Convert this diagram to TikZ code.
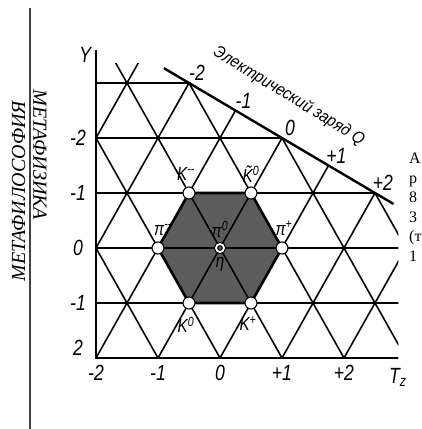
\documentclass[tikz,border=0pt]{standalone}
\usepackage{fontspec}
\usepackage{tikz}
\usetikzlibrary{calc,positioning}
\newfontfamily\lblfont{Liberation Sans}[FakeStretch=0.8]
\newfontfamily\qfont{Liberation Sans}[FakeStretch=0.9]
\newfontfamily\txtfont{Liberation Serif}
\definecolor{hexgray}{RGB}{92,92,92}

\begin{document}
\begin{tikzpicture}[x=31pt,y=55pt,
    grid/.style={line width=1.6pt},
    axis/.style={line width=2.4pt},
    vtx/.style={circle,draw,fill=white,line width=1.1pt,minimum size=12pt,inner sep=0pt},
    centre/.style={circle,draw,fill=hexgray,line width=1.1pt,minimum size=8pt,inner sep=0pt,double=white,double distance=1.8pt},
    lbl/.style={font=\lblfont\itshape\fontsize{19}{21}\selectfont,inner sep=1pt,label distance=5pt},
    tick/.style={font=\lblfont\itshape\fontsize{22}{24}\selectfont,inner sep=1pt},
    sidetext/.style={font=\txtfont\itshape\fontsize{20}{22}\selectfont,inner sep=0pt},
    part/.style={font=\txtfont\fontsize{16}{19.5}\selectfont,inner sep=0pt}]
  \useasboundingbox (-7.0968,-3.2909) rectangle (6.5161,4.5091);
  % hexagon of the octet
  \fill[hexgray] (-1,1) -- (1,1) -- (2,0) -- (1,-1) -- (-1,-1) -- (-2,0) -- cycle;
  % triangular lattice
  \begin{scope}
    \clip (-4,-2) -- (-4,3.36) -- (-2.08,3.36) -- (5.75,0.75) -- (5.75,-2) -- cycle;
    \foreach \r in {-2,...,3} \draw[grid] (-4,\r) -- (6,\r);
    \foreach \s in {-6,-4,...,6} {
      \draw[grid] (\s-3,-3) -- (\s+4,4);
      \draw[grid] (\s+3,-3) -- (\s-4,4);
    }
  \end{scope}
  % axes
  \coordinate (yfoot) at (-4,-2);
  \coordinate (ytop) at (-4,3.6);
  \coordinate (xend) at (5.75,-2);
  \draw[axis] (ytop) -- (yfoot) -- (xend);
  \coordinate (qstart) at (-1.81,3.27);
  \coordinate (qend) at (5.6,0.8);
  \draw[axis] (qstart) -- (qend);
  % mesons
  \node[vtx,label={[lbl,xshift=-3pt]above:K\textsuperscript{--}}] (Km) at (-1,1) {};
  \node[vtx,label={[lbl,label distance=3pt]above:\~{K}\textsuperscript{0}}] (Kt) at (1,1) {};
  \node[vtx,label={[lbl,xshift=2pt]above:π\textsuperscript{+}}] (pip) at (2,0) {};
  \node[vtx,label={[lbl,xshift=-3pt,label distance=6pt]below:K\textsuperscript{+}}] (Kp) at (1,-1) {};
  \node[vtx,label={[lbl,xshift=-3pt,label distance=6pt]below:K\textsuperscript{0}}] (Kz) at (-1,-1) {};
  \node[vtx,label={[lbl,xshift=5pt]above:π\textsuperscript{--}}] (pim) at (-2,0) {};
  \node[centre,label={[lbl]above:π\textsuperscript{0}},label={[lbl,label distance=4pt]below:η}] (ctr) at (0,0) {};
  \draw[line width=2.6pt] (Km) -- (Kt) (Kt) -- (pip) (pip) -- (Kp)
    (Kp) -- (Kz) (Kz) -- (pim) (pim) -- (Km);
  % scale labels
  \node[tick] (ylab) at (-4.35,3.51) {Y};
  \foreach \v/\r [count=\n] in {-2/2,-1/1,0/0,-1/-1,2/-1.82}
    \node[tick] (ytick\n) at (-4.58,\r) {\v};
  \foreach \v [count=\n] in {-2,-1,0,+1,+2}
    \node[tick] (xtick\n) at (2*\n-6,-2.27) {\v};
  \node[tick] (tz) at (5.74,-2.36) {T\textsubscript{z}};
  \foreach \q/\i/\r [count=\n] in {-2/-1/3,-1/0.5/2.5,0/2/2,+1/3.5/1.5,+2/5/1}
    \node[tick] (q\n) at ($(\i,\r)+(8pt,10pt)$) {\q};
  \node[font=\qfont\itshape\fontsize{17}{19}\selectfont,inner sep=0pt,rotate=-31.5] (qname) at (2.22,2.76) {Электрический заряд Q};
  % page margin
  \draw[line width=1.5pt,black!75] (-6.129,-3.2909) -- (-6.129,4.364);
  \node[sidetext,rotate=90] (metaphil) at (-6.5,1.036) {МЕТАФИЛОСОФИЯ};
  \node[sidetext,rotate=-90] (metaphys) at (-5.806,1.691) {МЕТАФИЗИКА};
  \node[part,anchor=north west,align=left] (cut) at (6.097,1.727) {А\\р\\8\\3\\(т\\1};
\end{tikzpicture}
\end{document}
